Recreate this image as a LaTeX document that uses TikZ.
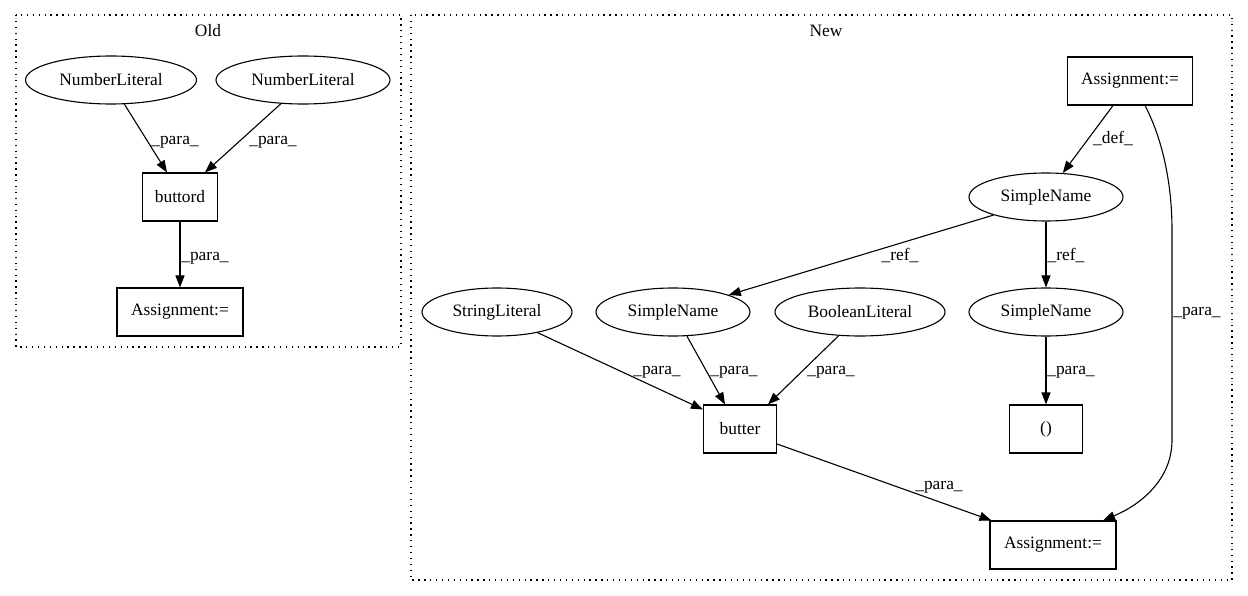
\documentclass[tikz,border=0pt]{standalone}
\usepackage{fontspec}
\setmainfont{Liberation Serif}
\usetikzlibrary{arrows.meta,shapes.geometric}
\begin{document}
\begin{tikzpicture}[x=1pt,y=-1pt,
  every node/.style={font=\fontsize{17.4}{20}\selectfont},
  ell/.style={draw,ellipse,inner sep=0pt,line width=1.1pt,minimum height=48pt},
  box/.style={draw,rectangle,inner sep=0pt,line width=1.1pt,minimum height=48pt},
  edge/.style={line width=1.1pt,-{Triangle[length=12pt,width=9pt]}},
  lbl/.style={inner sep=0pt},
  cluster/.style={line width=1.1pt,dash pattern=on 1.3pt off 4.6pt}]
\useasboundingbox[fill=white] (0,0) rectangle (1248,596);
% clusters
\draw[cluster] (16,15) rectangle (401,347);
\draw[cluster] (411,15) rectangle (1232,580);
\node[lbl] (oldlbl) at (208,31) {Old};
\node[lbl] (newlbl) at (826,31) {New};
% Old nodes
\node[ell,minimum width=171pt] (nl1) at (111,80) {NumberLiteral};
\node[ell,minimum width=174pt] (nl2) at (303,80) {NumberLiteral};
\node[box,minimum width=75pt] (buttord) at (180,197) {buttord};
\node[box,minimum width=126pt] (asgOld) at (180,312) {Assignment:=};
% New nodes
\node[box,minimum width=125pt] (asgTop) at (1130,81) {Assignment:=};
\node[ell,minimum width=154pt] (snTop) at (1046,197) {SimpleName};
\node[ell,minimum width=150pt] (strLit) at (497,312) {StringLiteral};
\node[ell,minimum width=154pt] (snL) at (673,312) {SimpleName};
\node[ell,minimum width=170pt] (boolLit) at (860,312) {BooleanLiteral};
\node[ell,minimum width=154pt] (snR) at (1046,312) {SimpleName};
\node[box,minimum width=73pt] (butter) at (740,429) {butter};
\node[box,minimum width=73pt] (paren) at (1046,429) {()};
\node[box,minimum width=126pt] (asgBot) at (1053,545) {Assignment:=};
% Old edges
\draw[edge] (nl1.-61) -- ([xshift=-13pt]buttord.north);
\draw[edge] (nl2.-133) -- ([xshift=25pt]buttord.north);
\draw[edge] (buttord.south) -- (asgOld.north);
\node[lbl] (l1) at (175,142) {\_para\_};
\node[lbl] (l2) at (273,142) {\_para\_};
\node[lbl] (l3) at (205,258) {\_para\_};
% New edges
\draw[edge] ([xshift=-17pt]asgTop.south) -- (snTop.55);
\draw[edge] (snTop.-161) -- (snL.17);
\draw[edge] (snTop.south) -- (snR.north);
\draw[edge] (strLit.-27) -- ([yshift=-5pt]butter.north west);
\draw[edge] (snL.-60) -- ([xshift=-15pt]butter.north);
\draw[edge] (boolLit.-132) -- ([xshift=28pt]butter.north);
\draw[edge] (snR.south) -- (paren.north);
\draw[edge] ([yshift=-15pt]butter.east) -- ([xshift=2pt]asgBot.north west);
\draw[edge] ([xshift=15pt]asgTop.south) .. controls (1163,140) and (1172,185) .. (1172,230) -- (1172,440) .. controls (1172,480) and (1140,505) .. ([xshift=50pt]asgBot.north);
\node[lbl] (l4) at (1113,138) {\_def\_};
\node[lbl] (l5) at (900,255) {\_ref\_};
\node[lbl] (l6) at (1066,255) {\_ref\_};
\node[lbl] (l7) at (657,372) {\_para\_};
\node[lbl] (l8) at (734,372) {\_para\_};
\node[lbl] (l9) at (831,372) {\_para\_};
\node[lbl] (l10) at (1071,372) {\_para\_};
\node[lbl] (l11) at (1197,313) {\_para\_};
\node[lbl] (l12) at (939,487) {\_para\_};
\end{tikzpicture}
\end{document}
